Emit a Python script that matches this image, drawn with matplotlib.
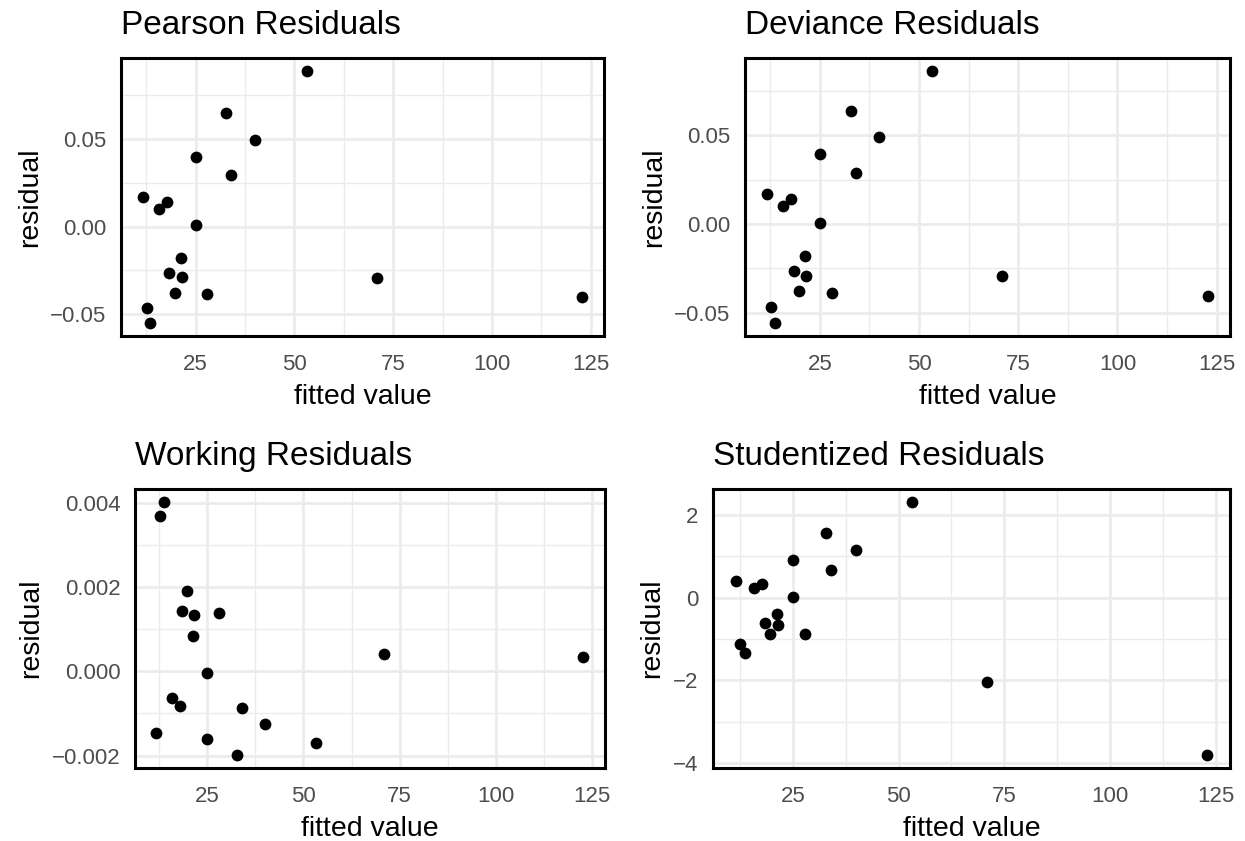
import matplotlib
matplotlib.use('Agg')
import matplotlib.pyplot as plt

plt.rcParams['font.family'] = ['Liberation Sans', 'DejaVu Sans']

# ── Data ─────────────────────────────────────────────────────────────────────
fitted = [53.2, 32.8, 40.0, 25.0, 34.0, 11.7, 17.8, 15.8, 25.0,
          21.3, 18.4, 21.6, 19.7, 28.0, 71.0, 122.8, 12.6, 13.6]
pearson = [0.0888, 0.0648, 0.0495, 0.0397, 0.0291, 0.0168, 0.0142, 0.0099, 0.0007,
           -0.0179, -0.0266, -0.0289, -0.0376, -0.0384, -0.0294, -0.0400, -0.0464, -0.0551]
deviance = [0.0865, 0.0637, 0.0489, 0.0393, 0.0290, 0.0170, 0.0142, 0.0103, 0.0007,
            -0.0179, -0.0266, -0.0292, -0.0378, -0.0387, -0.0295, -0.0404, -0.0470, -0.0561]
working = [-0.00169, -0.00198, -0.00126, -0.00160, -0.00087, -0.00146, -0.00082, -0.00064, -0.00004,
           0.00083, 0.00143, 0.00133, 0.00190, 0.00137, 0.00041, 0.00033, 0.00368, 0.00402]
student = [2.32, 1.57, 1.14, 0.905, 0.66, 0.40, 0.325, 0.24, 0.024,
           -0.40, -0.61, -0.67, -0.88, -0.88, -2.05, -3.80, -1.11, -1.35]

x_ticks = [25, 50, 75, 100, 125]
x_labels = ['25', '50', '75', '100', '125']
x_minor = [12.5, 37.5, 62.5, 87.5, 112.5]

res_ticks = [-0.05, 0.0, 0.05]
res_labels = ['\u22120.05', '0.00', '0.05']
res_minor = [-0.075, -0.025, 0.025, 0.075]
work_ticks = [-0.002, 0.0, 0.002, 0.004]
work_labels = ['\u22120.002', '0.000', '0.002', '0.004']
work_minor = [-0.003, -0.001, 0.001, 0.003]
stud_ticks = [-4, -2, 0, 2]
stud_labels = ['\u22124', '\u22122', '0', '2']
stud_minor = [-5, -3, -1, 1, 3]

# ── Canvas ───────────────────────────────────────────────────────────────────
W, H = 1245, 841
fig = plt.figure(figsize=(W / 100, H / 100), dpi=100)
fig.patch.set_facecolor('white')


def px_axes(x0, x1, y0, y1):
    """Axes from pixel box (top-left origin)."""
    return fig.add_axes([x0 / W, (H - y1) / H, (x1 - x0) / W, (y1 - y0) / H])


def expand(vals):
    lo, hi = min(vals), max(vals)
    p = 0.05 * (hi - lo)
    return lo - p, hi + p


def panel(ax, y, title, yt, yl, ym):
    ax.scatter(fitted, y, s=72, color='black', linewidths=0, zorder=3)
    ax.set_xticks(x_ticks, x_labels)
    ax.set_xticks(x_minor, minor=True)
    ax.set_yticks(yt, yl)
    ax.set_yticks(ym, minor=True)
    ax.set_xlim(*expand(fitted))
    ax.set_ylim(*expand(y))
    ax.grid(which='major', color='#EBEBEB', lw=1.9, zorder=0)
    ax.grid(which='minor', color='#EBEBEB', lw=0.95, zorder=0)
    ax.set_axisbelow(True)
    ax.tick_params(which='both', length=0, labelsize=16, labelcolor='#4D4D4D')
    ax.tick_params(axis='x', pad=13)
    ax.tick_params(axis='y', pad=10.4)
    for s in ax.spines.values():
        s.set_linewidth(2.2)
        s.set_color('black')
    ax.set_xlabel('fitted value', fontsize=20.5, labelpad=6.5)
    ax.set_ylabel('residual', fontsize=20.5, labelpad=5.5)
    ax.annotate(title, xy=(0, 1), xycoords='axes fraction', xytext=(0, 17.5),
                textcoords='offset points', ha='left', va='baseline', fontsize=24)


ax1 = px_axes(121, 604, 58, 336)
ax2 = px_axes(745, 1230, 58, 336)
ax3 = px_axes(135, 604.5, 489, 767.5)
ax4 = px_axes(713, 1230, 489, 767.5)

panel(ax1, pearson, 'Pearson Residuals', res_ticks, res_labels, res_minor)
panel(ax2, deviance, 'Deviance Residuals', res_ticks, res_labels, res_minor)
panel(ax3, working, 'Working Residuals', work_ticks, work_labels, work_minor)
panel(ax4, student, 'Studentized Residuals', stud_ticks, stud_labels, stud_minor)

fig.savefig('out.png', dpi=100, facecolor='white')
